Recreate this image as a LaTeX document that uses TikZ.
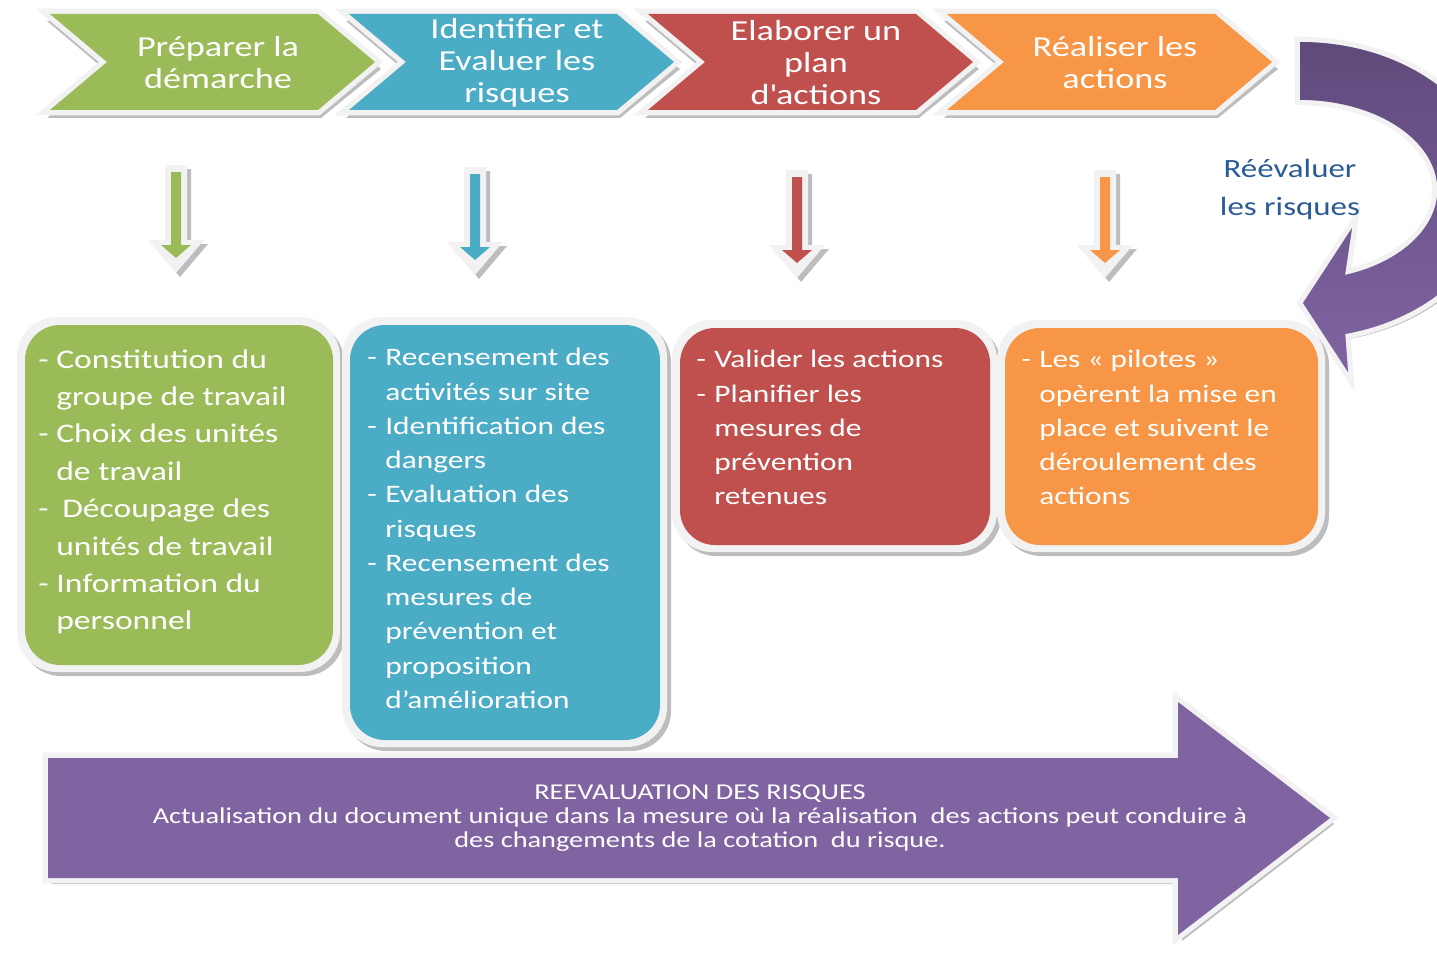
\documentclass[tikz,border=0pt]{standalone}
\usepackage{fontspec}
\setmainfont{Carlito}[FakeStretch=1.25]
\usetikzlibrary{calc}

\definecolor{pgreen}{HTML}{9BBB59}
\definecolor{pblue}{HTML}{4BACC6}
\definecolor{pred}{HTML}{C0504D}
\definecolor{porange}{HTML}{F79646}
\definecolor{ppurple}{HTML}{8064A2}
\definecolor{pdarkpurple}{HTML}{604A7B}
\definecolor{ptext}{HTML}{2A5B96}
\definecolor{pframe}{HTML}{F2F2F2}
\definecolor{pshade}{HTML}{BDBDBD}

\tikzset{
  px/.style={x=0.02cm,y=-0.02cm},
  frame/.style={fill=pframe},
  shade/.style={fill=pshade},
  rim/.style={draw=pframe,line width=6pt},
  headtxt/.style={text=white,align=center,font=\fontsize{16.5}{18.2}\selectfont},
  boxtxt/.style={text=white,align=left,anchor=north west,inner sep=0pt,font=\fontsize{14.3}{19.5}\selectfont},
}

\newcommand\dsh{\makebox[0.36cm][l]{-}}
\newcommand\ind{\hspace*{0.36cm}}
% block arrow pointing down: x, top y, colour
\newcommand\dnarrow[3]{%
  \begin{scope}[shift={(#1,#2)}]
    \fill[shade] (-7,4) -- (15,4) -- (15,79) -- (32,79) -- (4,112) -- (-24,79) -- (-7,79) -- cycle;
    \fill[frame] (-11,0) -- (11,0) -- (11,75) -- (28,75) -- (0,108) -- (-28,75) -- (-11,75) -- cycle;
    \fill[#3] (-5,7) -- (5,7) -- (5,80) -- (15,80) -- (0,93) -- (-15,80) -- (-5,80) -- cycle;
  \end{scope}}

\begin{document}
\begin{tikzpicture}[px]
\useasboundingbox (0,0) rectangle (1437,953);
\fill[white] (0,0) rectangle (1437,953);
\clip (0,0) rectangle (1437,953);

% steps
\foreach \i/\c/\t in {0/pgreen/{Préparer la\\démarche},1/pblue/{Identifier et\\Evaluer les\\risques},2/pred/{Elaborer un\\plan\\d\textquotesingle actions},3/porange/{Réaliser les\\actions}}{
  \begin{scope}[shift={(50+299*\i,14)}]
    \fill[shade] (-3,7) -- (271,7) -- (331,55) -- (271,104) -- (-3,104) -- (54,55) -- cycle;
    \draw[rim] (0,0) -- (268,0) -- (325,48) -- (268,96) -- (0,96) -- (57,48) -- cycle;
    \fill[\c] (0,0) -- (268,0) -- (325,48) -- (268,96) -- (0,96) -- (57,48) -- cycle;
    \node[headtxt] (etape\i) at (168,48.5) {\t};
  \end{scope}
}

% down arrows
\dnarrow{176}{165}{pgreen}
\dnarrow{475}{167}{pblue}
\dnarrow{797}{170}{pred}
\dnarrow{1105}{170}{porange}

% boxes
\foreach \xa/\ya/\xb/\yb/\c in {25/325/333/665/pgreen,350/325/660/740/pblue,680/328/990/545/pred,1005/328/1318/545/porange}{
  \fill[shade,rounded corners=0.8cm] (\xa-4,\ya-3) rectangle (\xb+11,\yb+11);
  \fill[frame,rounded corners=0.8cm] (\xa-8,\ya-8) rectangle (\xb+7,\yb+7);
  \fill[\c,rounded corners=0.7cm] (\xa,\ya) rectangle (\xb,\yb);
}

\node[boxtxt,font=\fontsize{15.3}{21.3}\selectfont] (groupe) at (38,349) {\dsh Constitution du\\
\ind groupe de travail\\
\dsh Choix des unités\\
\ind de travail\\
\dsh\hspace{0.12cm}Découpage des\\
\ind unités de travail\\
\dsh Information du\\
\ind personnel};
\node[boxtxt] (recensement) at (367,348) {\dsh Recensement des\\
\ind activités sur site\\
\dsh Identification des\\
\ind dangers\\
\dsh Evaluation des\\
\ind risques\\
\dsh Recensement des\\
\ind mesures de\\
\ind prévention et\\
\ind proposition\\
\ind d’amélioration};
\node[boxtxt] (valider) at (696,350) {\dsh Valider les actions\\
\dsh Planifier les\\
\ind mesures de\\
\ind prévention\\
\ind retenues};
\node[boxtxt] (pilotes) at (1021,350) {\dsh Les «~pilotes~»\\
\ind opèrent la mise en\\
\ind place et suivent le\\
\ind déroulement des\\
\ind actions};

% loop arrow
\fill[shade] (1304,47) arc[start angle=-90,end angle=76.6,x radius=195,y radius=148] -- (1352,377) -- (1307,308) -- (1356,233) -- (1349,280) arc[start angle=71,end angle=-90,x radius=137,y radius=90] -- cycle;
\draw[rim] (1300,42) arc[start angle=-90,end angle=76.6,x radius=195,y radius=148] -- (1348,372) -- (1303,303) -- (1352,228) -- (1345,275) arc[start angle=71,end angle=-90,x radius=137,y radius=90] -- cycle;
\shade[top color=pdarkpurple,bottom color=ppurple] (1300,42) arc[start angle=-90,end angle=76.6,x radius=195,y radius=148] -- (1348,372) -- (1303,303) -- (1352,228) -- (1345,275) arc[start angle=71,end angle=-90,x radius=137,y radius=90] -- cycle;
\node[text=ptext,align=center,font=\fontsize{15}{21.6}\selectfont] (reevaluer) at (1290,189) {Réévaluer\\les risques};

% big arrow
\fill[shade] (52,764) -- (1182,764) -- (1182,708) -- (1334,824) -- (1182,941) -- (1182,884) -- (52,884) -- cycle;
\draw[rim] (48,758) -- (1178,758) -- (1178,702) -- (1330,818) -- (1178,935) -- (1178,878) -- (48,878) -- cycle;
\fill[ppurple] (48,758) -- (1178,758) -- (1178,702) -- (1330,818) -- (1178,935) -- (1178,878) -- (48,878) -- cycle;
\node[text=white,align=center,font=\fontsize{12.9}{13.7}\selectfont] (reevaluation) at (700,818) {REEVALUATION DES RISQUES\\
Actualisation du document unique dans la mesure où la réalisation\ \ des actions peut conduire à\\
des changements de la cotation\ \ du risque.};
\end{tikzpicture}
\end{document}
